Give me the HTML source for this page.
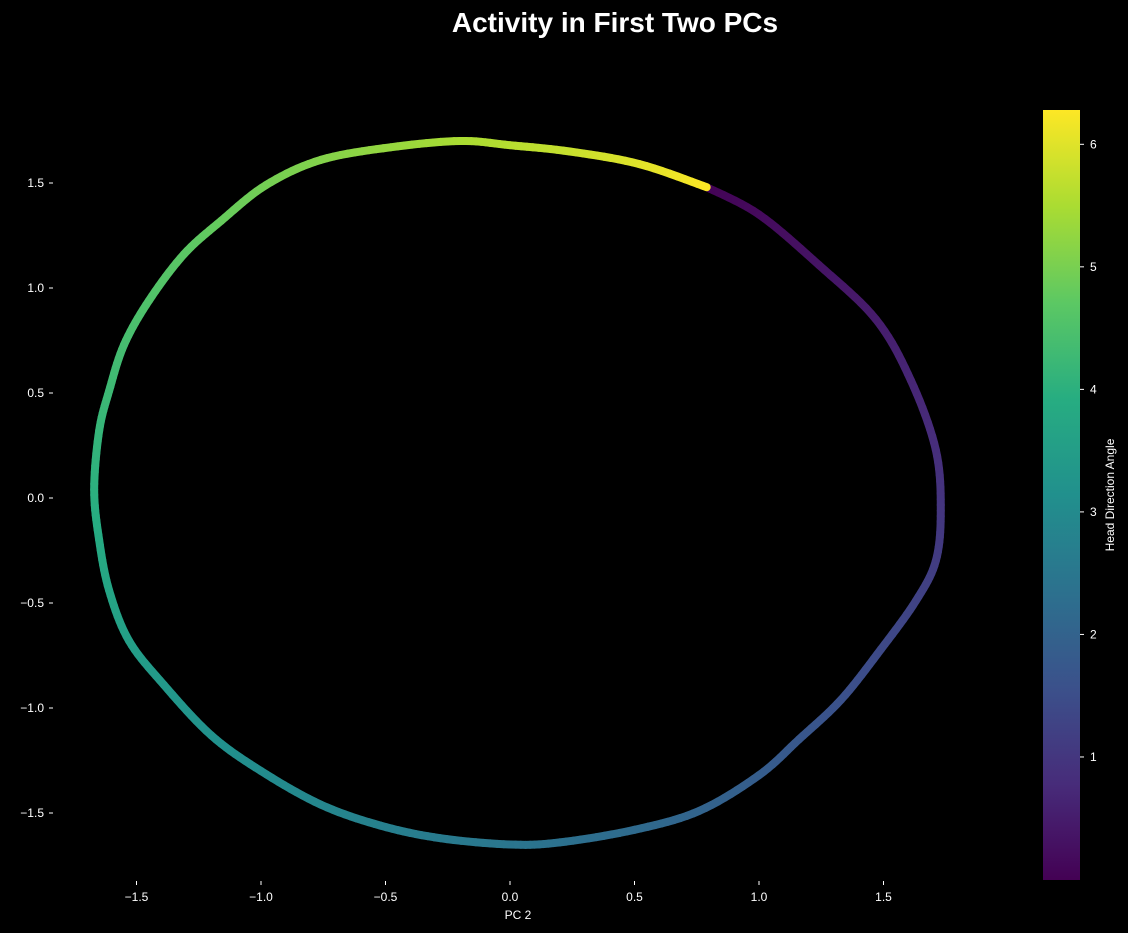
<!DOCTYPE html>
<html><head><meta charset="utf-8"><style>
body{margin:0;background:#000;}
svg{display:block;font-family:"Liberation Sans","DejaVu Sans",sans-serif;}
</style></head><body>
<svg id="chart" width="1128" height="933" viewBox="0 0 1128 933">
<rect width="1128" height="933" fill="#000"/>
<text x="615" y="32" text-anchor="middle" fill="#fff" font-size="28" font-weight="bold">Activity in First Two PCs</text>
<text x="518" y="919" text-anchor="middle" fill="#fff" font-size="12">PC 2</text>
<g id="xticks"></g>
<g id="yticks"></g>
<g id="curve"></g>
<defs><linearGradient id="vir" x1="0" y1="1" x2="0" y2="0"></linearGradient></defs>
<rect id="cbar" x="1043" y="110" width="37" height="770"/>
<g id="cticks"></g>
<text transform="translate(1114,495) rotate(-90)" text-anchor="middle" fill="#fff" font-size="12">Head Direction Angle</text>
</svg>
<script>
const pc2 = [0.79,1.00,1.24,1.47,1.61,1.71,1.73,1.71,1.63,1.49,1.33,1.16,1.00,0.76,0.50,0.20,0.00,-0.28,-0.52,-0.76,-1.00,-1.20,-1.39,-1.53,-1.61,-1.65,-1.67,-1.65,-1.61,-1.55,-1.45,-1.31,-1.16,-0.98,-0.76,-0.48,-0.20,0.00,0.24,0.52,0.79];
const pc1 = [1.48,1.35,1.11,0.85,0.56,0.23,-0.06,-0.30,-0.49,-0.72,-0.96,-1.15,-1.32,-1.49,-1.58,-1.64,-1.65,-1.62,-1.56,-1.46,-1.30,-1.13,-0.89,-0.68,-0.44,-0.20,0.04,0.32,0.51,0.73,0.94,1.16,1.32,1.49,1.61,1.67,1.70,1.68,1.65,1.59,1.48];
const angle = [0.02,0.16,0.33,0.49,0.66,0.82,0.98,1.12,1.25,1.40,1.56,1.71,1.85,2.02,2.18,2.35,2.46,2.60,2.73,2.88,3.03,3.18,3.36,3.52,3.68,3.83,3.99,4.14,4.25,4.37,4.52,4.67,4.80,4.94,5.09,5.28,5.48,5.60,5.76,5.99,6.28];
const xTicks = [-1.5,-1.0,-0.5,0.0,0.5,1.0,1.5];
const yTicks = [-1.5,-1.0,-0.5,0.0,0.5,1.0,1.5];
const cTicks = [1,2,3,4,5,6];
const cMin = 0, cMax = 6.28;
const NS="http://www.w3.org/2000/svg";
const X = v => 510 + v*249;
const Y = v => 498 - v*210;
const C = v => 879.5 - (v-cMin)/(cMax-cMin)*769.5;
const vs=[[0,[68,1,84]],[0.125,[71,44,122]],[0.25,[59,81,139]],[0.375,[44,113,142]],[0.5,[33,144,141]],[0.625,[39,173,129]],[0.75,[92,200,99]],[0.875,[170,220,50]],[1,[253,231,37]]];
function vir(t){t=Math.max(0,Math.min(1,t));for(let i=1;i<vs.length;i++){if(t<=vs[i][0]){const a=vs[i-1],b=vs[i],f=(t-a[0])/(b[0]-a[0]);return `rgb(${[0,1,2].map(k=>Math.round(a[1][k]+f*(b[1][k]-a[1][k]))).join(',')})`;}}return 'rgb(253,231,37)';}
function fmt(v){return (v<0?'\u2212':'')+Math.abs(v).toFixed(1);}
const xg=document.getElementById('xticks');
xTicks.forEach(v=>{
 const l=document.createElementNS(NS,'line');l.setAttribute('x1',X(v));l.setAttribute('x2',X(v));l.setAttribute('y1',881);l.setAttribute('y2',885);l.setAttribute('stroke','#fff');
 
 
 xg.appendChild(l);
 const t=document.createElementNS(NS,'text');t.setAttribute('x',X(v));t.setAttribute('y',901);t.setAttribute('text-anchor','middle');t.setAttribute('fill','#fff');t.setAttribute('font-size','12');t.textContent=fmt(v);
 
 
 xg.appendChild(t);
});
const yg=document.getElementById('yticks');
yTicks.forEach(v=>{
 const l=document.createElementNS(NS,'line');l.setAttribute('x1',49);l.setAttribute('x2',53);l.setAttribute('y1',Y(v));l.setAttribute('y2',Y(v));l.setAttribute('stroke','#fff');
 
 
 yg.appendChild(l);
 const t=document.createElementNS(NS,'text');t.setAttribute('x',44);t.setAttribute('y',Y(v)+4);t.setAttribute('text-anchor','end');t.setAttribute('fill','#fff');t.setAttribute('font-size','12');t.textContent=fmt(v);
 
 
 yg.appendChild(t);
});
const cg=document.getElementById('curve');
const N=pc2.length;
function idx(i){return Math.max(0,Math.min(N-1,i));}
function cr(p0,p1,p2,p3,t){const t2=t*t,t3=t2*t;return 0.5*((2*p1)+(-p0+p2)*t+(2*p0-5*p1+4*p2-p3)*t2+(-p0+3*p1-3*p2+p3)*t3);}
for(let i=0;i<N-1;i++){
 const a0=idx(i-1),a1=i,a2=i+1,a3=idx(i+2);
 const n=10;
 for(let k=0;k<n;k++){
  const f0=k/n,f1=(k+1)/n;
  const x0=cr(pc2[a0],pc2[a1],pc2[a2],pc2[a3],f0),y0=cr(pc1[a0],pc1[a1],pc1[a2],pc1[a3],f0);
  const x1=cr(pc2[a0],pc2[a1],pc2[a2],pc2[a3],f1),y1=cr(pc1[a0],pc1[a1],pc1[a2],pc1[a3],f1);
  const a=angle[i]+(angle[i+1]-angle[i])*(f0+f1)/2;
  const l=document.createElementNS(NS,'line');
  l.setAttribute('x1',X(x0));l.setAttribute('y1',Y(y0));l.setAttribute('x2',X(x1));l.setAttribute('y2',Y(y1));
  l.setAttribute('stroke',vir((a-cMin)/(cMax-cMin)));l.setAttribute('stroke-width','8');l.setAttribute('stroke-linecap','round');
  
  
  cg.appendChild(l);
 }
}
const gr=document.querySelector('#vir');
vs.forEach(s=>{const st=document.createElementNS(NS,'stop');st.setAttribute('offset',s[0]);st.setAttribute('stop-color',`rgb(${s[1].join(',')})`);gr.appendChild(st);});
document.getElementById('cbar').setAttribute('fill','url(#vir)');
const ctg=document.getElementById('cticks');
cTicks.forEach(v=>{
 const l=document.createElementNS(NS,'line');l.setAttribute('x1',1080);l.setAttribute('x2',1084);l.setAttribute('y1',C(v));l.setAttribute('y2',C(v));l.setAttribute('stroke','#fff');
 
 
 ctg.appendChild(l);
 const t=document.createElementNS(NS,'text');t.setAttribute('x',1090);t.setAttribute('y',C(v)+4);t.setAttribute('fill','#fff');t.setAttribute('font-size','12');t.textContent=v;
 
 
 ctg.appendChild(t);
});
</script>
</body></html>
